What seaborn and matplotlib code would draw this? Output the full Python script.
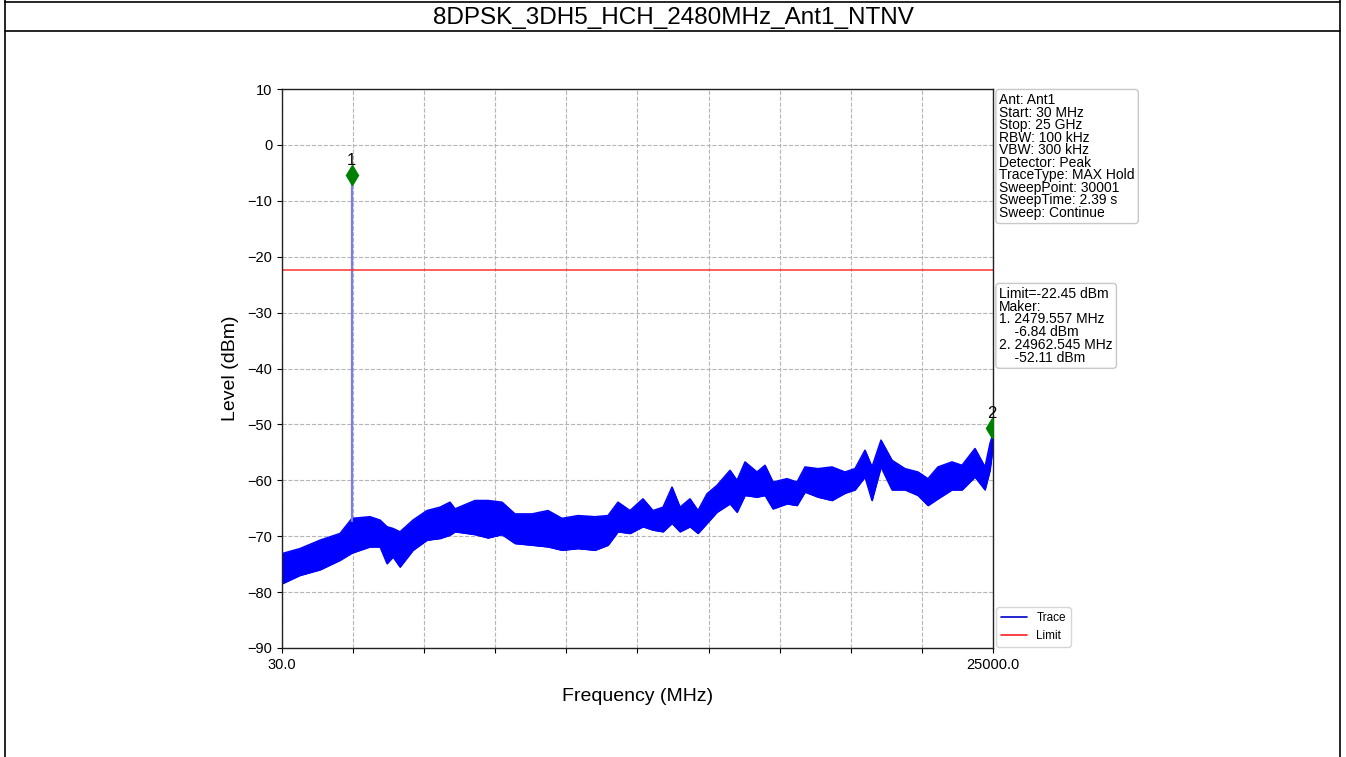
import matplotlib
matplotlib.use("Agg")
import matplotlib.pyplot as plt
from matplotlib.lines import Line2D
import seaborn as sns
import pandas as pd

# trace envelope (MHz, dBm)
freq = [30, 662, 1365, 2067, 2488, 3121, 3472, 3718, 3928, 4174, 4631, 5122,
        5579, 5930, 6106, 6808, 7265, 7756, 8213, 8810, 9372, 9864, 10426,
        11023, 11479, 11830, 12252, 12708, 13060, 13411, 13727, 14008, 14359,
        14640, 14956, 15307, 15764, 16010, 16291, 16712, 16993, 17274, 17766,
        18117, 18398, 18854, 19346, 19803, 20154, 20505, 20751, 21067, 21453,
        21910, 22366, 22717, 23068, 23560, 23912, 24368, 24719, 24895, 25000]
upper = [-73.1, -72.2, -70.7, -69.5, -66.8, -66.5, -67.1, -68.3, -68.6, -69.2,
         -67.1, -65.4, -64.8, -63.9, -65.1, -63.6, -63.6, -63.9, -66.0, -66.0,
         -65.4, -66.8, -66.3, -66.5, -66.3, -63.9, -65.4, -63.3, -65.4, -64.8,
         -61.2, -64.8, -63.3, -65.4, -62.4, -60.9, -58.2, -60.0, -56.7, -58.5,
         -57.3, -60.3, -59.7, -60.3, -57.6, -57.9, -57.6, -58.5, -57.9, -54.6,
         -57.6, -52.8, -56.4, -57.9, -58.5, -59.7, -57.6, -56.7, -57.3, -54.3,
         -57.6, -53.4, -51.6]
lower = [-78.5, -77.0, -76.0, -74.3, -73.0, -71.9, -71.9, -74.9, -73.7, -75.5,
         -72.5, -70.7, -70.4, -69.8, -69.2, -69.7, -70.3, -69.7, -71.3, -71.6,
         -71.9, -72.5, -72.2, -72.5, -71.6, -69.2, -69.5, -68.3, -68.9, -69.2,
         -67.7, -69.2, -68.3, -69.5, -67.7, -65.7, -64.2, -65.7, -62.7, -63.0,
         -62.7, -65.1, -64.2, -64.5, -62.1, -63.0, -63.6, -62.3, -61.7, -59.4,
         -63.6, -57.6, -61.7, -61.7, -62.7, -64.5, -63.3, -61.7, -61.7, -59.4,
         -61.7, -58.2, -54.0]

limit = -22.45
marker_freq = [2479.557, 24962.545]
marker_level = [-5.4, -50.6]
marker_names = ["1", "2"]
spike_base = -67.5

info_text = ("Ant: Ant1\nStart: 30 MHz\nStop: 25 GHz\nRBW: 100 kHz\nVBW: 300 kHz\n"
             "Detector: Peak\nTraceType: MAX Hold\nSweepPoint: 30001\n"
             "SweepTime: 2.39 s\nSweep: Continue")
marker_text = ("Limit=-22.45 dBm\nMaker:\n1. 2479.557 MHz\n    -6.84 dBm\n"
               "2. 24962.545 MHz\n    -52.11 dBm")

sns.set_style("ticks")
plt.rcParams["font.family"] = ["Liberation Sans", "DejaVu Sans"]
plt.rcParams["text.color"] = "black"
plt.rcParams["axes.labelcolor"] = "black"
plt.rcParams["xtick.color"] = "black"
plt.rcParams["ytick.color"] = "black"

fig = plt.figure(figsize=(13.46, 7.57), dpi=100)
ax = fig.add_axes([0.2095, 0.144, 0.5282, 0.7384])

df = pd.DataFrame({"freq": freq, "upper": upper, "lower": lower})
ax.fill_between(df["freq"], df["lower"], df["upper"], color="#0000ff", lw=0.6)
sns.lineplot(data=df, x="freq", y="upper", ax=ax, color="#0000ff", lw=1.0)
sns.lineplot(data=df, x="freq", y="lower", ax=ax, color="#0000ff", lw=1.0)
ax.vlines(marker_freq[0], spike_base, marker_level[0], color="#7b7bf2", lw=1.6)

lim_df = pd.DataFrame({"freq": [freq[0], freq[-1]], "level": [limit, limit]})
sns.lineplot(data=lim_df, x="freq", y="level", ax=ax, color="#ff3030", lw=1.1)

ax.plot(marker_freq, marker_level, "d", color="green", ms=10, zorder=5)
for f, lv, nm in zip(marker_freq, marker_level, marker_names):
    ax.text(f, lv + 1.2, nm, ha="center", va="bottom", fontsize=12)

ax.set_xlim(freq[0], freq[-1])
ax.set_ylim(-90, 10)
xt = [freq[0] + i * (freq[-1] - freq[0]) / 10 for i in range(11)]
ax.set_xticks(xt)
ax.set_xticklabels(["30.0"] + [""] * 9 + ["25000.0"], fontsize=10.5)
ax.set_yticks(range(-90, 11, 10))
ax.tick_params(axis="y", labelsize=10.5)
ax.grid(True, ls="--", color="#b5b5b5", lw=0.8)
for s in ax.spines.values():
    s.set_visible(True)
    s.set_color("#222222")
    s.set_linewidth(1.0)
ax.set_xlabel("Frequency (MHz)", fontsize=14, labelpad=12)
ax.set_ylabel("Level (dBm)", fontsize=14, labelpad=6)

box = dict(boxstyle="round,pad=0.25", fc="white", ec="#c8c8c8", lw=1)
ax.text(1.009, 0.993, info_text, transform=ax.transAxes, va="top", ha="left",
        fontsize=10, linespacing=0.87, bbox=box)
ax.text(1.009, 0.646, marker_text, transform=ax.transAxes, va="top", ha="left",
        fontsize=10, linespacing=0.89, bbox=box)

handles = [Line2D([], [], color="#0000cc", lw=1.2), Line2D([], [], color="#ff2020", lw=1.2)]
ax.legend(handles, ["Trace", "Limit"], loc="lower left", bbox_to_anchor=(1.003, 0.0),
          fontsize=8.5, frameon=True, edgecolor="#cccccc", handlelength=2.2,
          borderaxespad=0.1)

# page frame and title row
fig.text(0.5, 0.976, "8DPSK_3DH5_HCH_2480MHz_Ant1_NTNV", ha="center", va="center",
         fontsize=17.5)
for xs, ys in [([0.004, 0.004], [0, 1]), ([0.9955, 0.9955], [0, 1]),
               ([0.004, 0.9955], [0.998, 0.998]), ([0.004, 0.9955], [0.959, 0.959])]:
    fig.add_artist(Line2D(xs, ys, color="black", lw=1.2, transform=fig.transFigure))

fig.savefig("out.png", dpi=100)
